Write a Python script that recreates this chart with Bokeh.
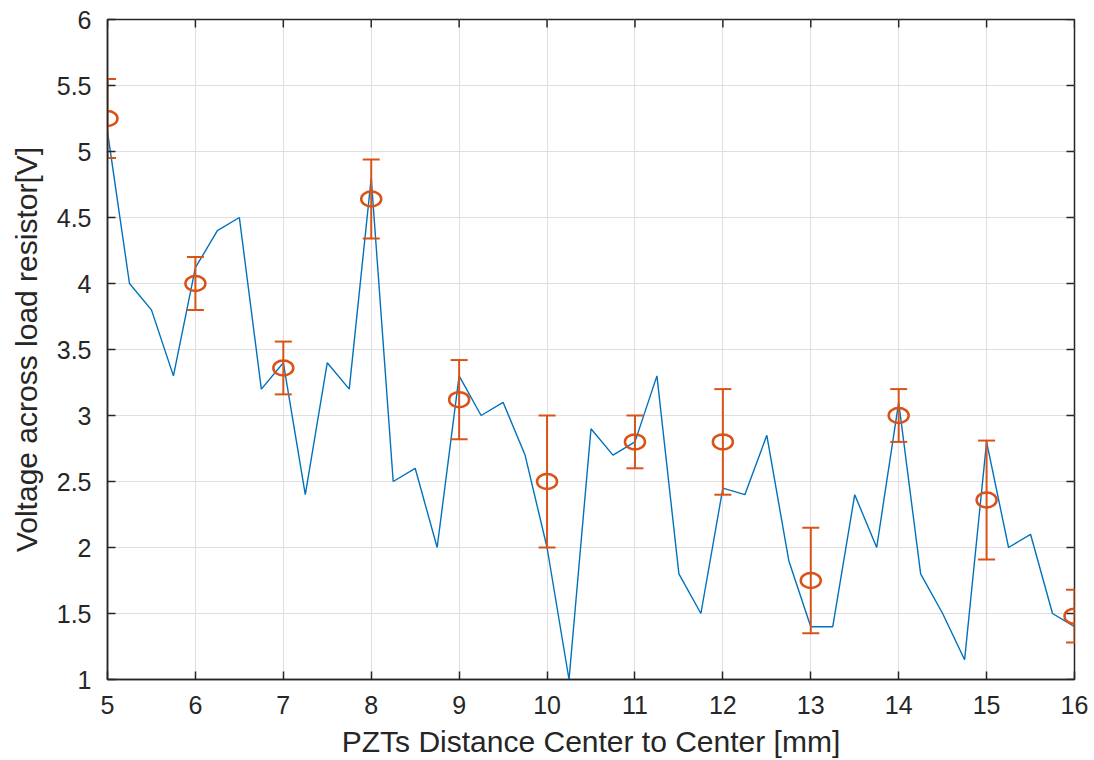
from bokeh.plotting import figure
from bokeh.models import Range1d, FixedTicker, ColumnDataSource, Whisker, TeeHead
from bokeh.embed import file_html
from bokeh.resources import INLINE

# ---- data ----
line_x = [5.0, 5.25, 5.5, 5.75, 6.0, 6.25, 6.5, 6.75, 7.0, 7.25, 7.5, 7.75,
          8.0, 8.25, 8.5, 8.75, 9.0, 9.25, 9.5, 9.75, 10.0, 10.25, 10.5, 10.75,
          11.0, 11.25, 11.5, 11.75, 12.0, 12.25, 12.5, 12.75, 13.0, 13.25, 13.5,
          13.75, 14.0, 14.25, 14.5, 14.75, 15.0, 15.25, 15.5, 15.75, 16.0]
line_y = [5.15, 4.0, 3.8, 3.3, 4.12, 4.4, 4.5, 3.2, 3.4, 2.4, 3.4, 3.2,
          4.8, 2.5, 2.6, 2.0, 3.3, 3.0, 3.1, 2.7, 2.0, 1.0, 2.9, 2.7,
          2.8, 3.3, 1.8, 1.5, 2.45, 2.4, 2.85, 1.9, 1.4, 1.4, 2.4,
          2.0, 3.1, 1.8, 1.5, 1.15, 2.8, 2.0, 2.1, 1.5, 1.4]

mean_x = [5, 6, 7, 8, 9, 10, 11, 12, 13, 14, 15, 16]
mean_y = [5.25, 4.0, 3.36, 4.64, 3.12, 2.5, 2.8, 2.8, 1.75, 3.0, 2.36, 1.48]
err_up = [5.55, 4.2, 3.56, 4.94, 3.42, 3.0, 3.0, 3.2, 2.15, 3.2, 2.81, 1.68]
err_lo = [4.95, 3.8, 3.16, 4.34, 2.82, 2.0, 2.6, 2.4, 1.35, 2.8, 1.91, 1.28]

x_ticks = [5, 6, 7, 8, 9, 10, 11, 12, 13, 14, 15, 16]
x_tick_labels = ["5", "6", "7", "8", "9", "10", "11", "12", "13", "14", "15", "16"]
y_ticks = [1, 1.5, 2, 2.5, 3, 3.5, 4, 4.5, 5, 5.5, 6]
y_tick_labels = ["1", "1.5", "2", "2.5", "3", "3.5", "4", "4.5", "5", "5.5", "6"]

x_label = "PZTs Distance Center to Center [mm]"
y_label = "Voltage across load resistor[V]"

# ---- style ----
BLUE = "#0072BD"
ORANGE = "#D95319"
TXT = "#262626"
FONT = "Liberation Sans"
FRAME_W, FRAME_H = 967, 660
TICK_PX = 8

x0, x1 = x_ticks[0], x_ticks[-1]
y0, y1 = y_ticks[0], y_ticks[-1]

p = figure(frame_width=FRAME_W, frame_height=FRAME_H,
           x_range=Range1d(x0, x1), y_range=Range1d(y0, y1),
           output_backend="svg", toolbar_location=None,
           min_border_left=107, min_border_right=20, min_border_top=19,
           min_border_bottom=81)
p.background_fill_color = "white"
p.border_fill_color = "white"
p.outline_line_color = TXT
p.outline_line_width = 1.5

p.xgrid.ticker = FixedTicker(ticks=x_ticks)
p.ygrid.ticker = FixedTicker(ticks=y_ticks)
for g in (p.xgrid, p.ygrid):
    g.grid_line_color = "#dfdfdf"
    g.grid_line_width = 1

def style_axis(ax, ticks, labels):
    ax.ticker = FixedTicker(ticks=ticks)
    ax.major_label_overrides = {t: l for t, l in zip(ticks, labels)}
    ax.axis_line_color = TXT
    ax.axis_line_width = 1.5
    ax.major_tick_line_color = TXT
    ax.major_tick_line_width = 1.5
    ax.major_tick_in = TICK_PX
    ax.major_tick_out = 0
    ax.minor_tick_in = 0
    ax.minor_tick_out = 0
    ax.major_label_text_font = FONT
    ax.major_label_text_color = TXT
    ax.major_label_text_font_size = "25px"
    ax.axis_label_text_font = FONT
    ax.axis_label_text_color = TXT
    ax.axis_label_text_font_style = "normal"
    ax.axis_label_text_font_size = "30px"

xb = p.xaxis[0]
yl = p.yaxis[0]
style_axis(xb, x_ticks, x_tick_labels)
style_axis(yl, y_ticks, y_tick_labels)
xb.axis_label = x_label
yl.axis_label = y_label
xb.major_label_standoff = 16
xb.axis_label_standoff = 8
yl.major_label_standoff = 16
yl.axis_label_standoff = 11

# blue line
p.line(line_x, line_y, line_color=BLUE, line_width=1.4)

# error bars
src = ColumnDataSource(dict(x=mean_x, y=mean_y, upper=err_up, lower=err_lo))
wk = Whisker(source=src, base="x", upper="upper", lower="lower",
             line_color=ORANGE, line_width=2,
             upper_head=TeeHead(size=17, line_color=ORANGE, line_width=2),
             lower_head=TeeHead(size=17, line_color=ORANGE, line_width=2))
wk.level = "glyph"
p.add_layout(wk)

# circle markers
p.ellipse(x="x", y="y", source=src, width=20, height=15,
          width_units="screen", height_units="screen",
          fill_color=None, line_color=ORANGE, line_width=2.5)

# inward ticks on the top and right edges of the box
dy = (y1 - y0) * TICK_PX / FRAME_H
dx = (x1 - x0) * TICK_PX / FRAME_W
p.segment(x0=x_ticks, y0=[y1] * len(x_ticks), x1=x_ticks,
          y1=[y1 - dy] * len(x_ticks), line_color=TXT, line_width=1.5)
p.segment(x0=[x1] * len(y_ticks), y0=y_ticks, x1=[x1 - dx] * len(y_ticks),
          y1=y_ticks, line_color=TXT, line_width=1.5)

open("out.html", "w").write(file_html(p, INLINE))
